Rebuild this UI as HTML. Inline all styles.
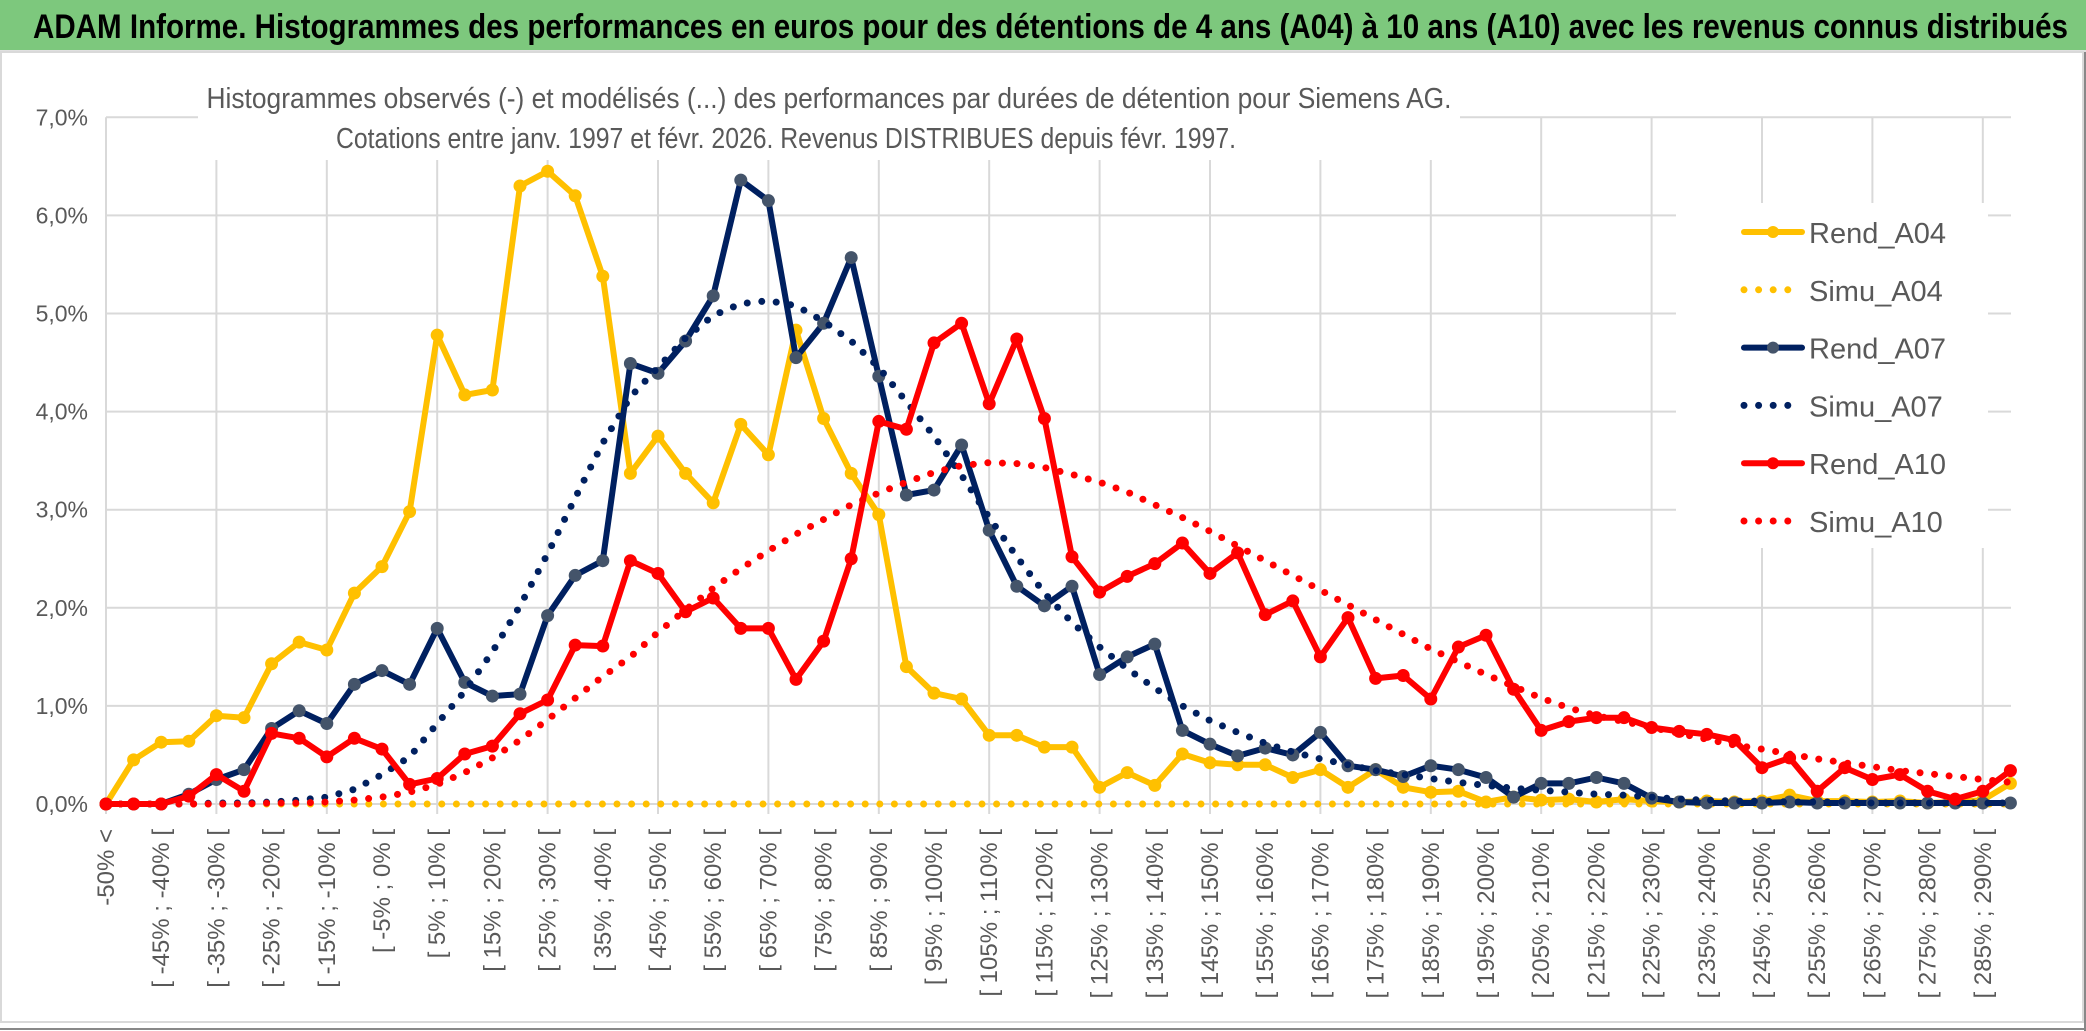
<!DOCTYPE html>
<html><head><meta charset="utf-8">
<style>
html,body{margin:0;padding:0;background:#fff;}
svg{display:block;}
</style></head>
<body>
<svg id="chart" width="2086" height="1031" viewBox="0 0 2086 1031" xmlns="http://www.w3.org/2000/svg" font-family="'Liberation Sans', sans-serif">
  <rect x="0" y="0" width="2086" height="1031" fill="#fff"/>
  <rect x="0" y="0" width="2086" height="50" fill="#7dc87d"/>
  <line x1="0" y1="51.5" x2="2086" y2="51.5" stroke="#e0e0e0" stroke-width="3"/>
  <text x="33" y="38" font-size="34" font-weight="bold" fill="#000" textLength="2035" lengthAdjust="spacingAndGlyphs">ADAM Informe. Histogrammes des performances en euros pour des détentions de 4 ans (A04) à 10 ans (A10) avec les revenus connus distribués</text>
  <rect x="1" y="52" width="2082" height="970" fill="none" stroke="#d9d9d9" stroke-width="2"/>
  <line x1="0" y1="1029" x2="2086" y2="1029" stroke="#888" stroke-width="2"/>
  <line x1="2085" y1="52" x2="2085" y2="1031" stroke="#888" stroke-width="2"/>
  <g id="grid"></g>
  <g id="yaxis"></g>
  <g id="xaxis"></g>
  <rect x="198" y="72" width="1262" height="88" fill="#fff"/>
  <text x="829" y="108" font-size="29" fill="#595959" text-anchor="middle" textLength="1245" lengthAdjust="spacingAndGlyphs">Histogrammes observés (-) et modélisés (...) des performances par durées de détention pour Siemens AG.</text>
  <text x="786" y="148" font-size="29" fill="#595959" text-anchor="middle" textLength="900" lengthAdjust="spacingAndGlyphs">Cotations entre janv. 1997 et févr. 2026. Revenus DISTRIBUES depuis févr. 1997.</text>
  <g id="series"></g>
  <g id="legend"></g>
</svg>
<script>
const NS='http://www.w3.org/2000/svg';
const yTicks=[0,1,2,3,4,5,6,7];
const yTickLabels=['0,0%','1,0%','2,0%','3,0%','4,0%','5,0%','6,0%','7,0%'];
const categories=['-50% <'];
for(let k=1;k<70;k++){const a=-55+5*k;categories.push('[ '+a+'% ; '+(a+5)+'% [');}
const rendA04=[0,0.45,0.63,0.64,0.9,0.88,1.43,1.65,1.57,2.15,2.42,2.98,4.78,4.17,4.22,6.3,6.45,6.2,5.38,3.37,3.75,3.37,3.07,3.87,3.56,4.83,3.93,3.37,2.95,1.4,1.13,1.07,0.7,0.7,0.58,0.58,0.17,0.32,0.19,0.51,0.42,0.4,0.4,0.27,0.35,0.17,0.35,0.17,0.12,0.13,0.02,0.07,0.04,0.05,0.02,0.05,0.03,0.02,0.03,0.02,0.03,0.09,0.03,0.03,0.02,0.03,0.01,0.02,0.04,0.21];
const simuA04=new Array(70).fill(0);
const rendA07=[0,0,0,0.1,0.25,0.35,0.77,0.95,0.82,1.22,1.36,1.22,1.79,1.24,1.1,1.12,1.92,2.33,2.48,4.49,4.39,4.72,5.18,6.36,6.15,4.55,4.9,5.57,4.36,3.15,3.2,3.66,2.79,2.22,2.02,2.22,1.32,1.5,1.63,0.75,0.61,0.49,0.57,0.5,0.73,0.39,0.35,0.28,0.39,0.35,0.27,0.07,0.21,0.21,0.27,0.21,0.06,0.02,0.01,0.01,0.01,0.02,0.01,0.01,0.01,0.01,0.01,0.01,0.01,0.01];
const simuA07=[0,0,0,0,0.01,0.01,0.02,0.04,0.07,0.15,0.3,0.48,0.82,1.15,1.55,2.02,2.55,3.12,3.68,4.15,4.45,4.75,4.98,5.1,5.13,5.08,4.92,4.72,4.45,4.1,3.75,3.35,2.92,2.52,2.15,1.85,1.6,1.38,1.18,1.0,0.85,0.73,0.62,0.53,0.46,0.4,0.34,0.3,0.26,0.22,0.19,0.16,0.14,0.12,0.1,0.09,0.07,0.05,0.04,0.03,0.03,0.02,0.02,0.02,0.01,0.01,0.01,0.01,0.01,0.01];
const rendA10=[0,0,0,0.08,0.3,0.13,0.72,0.67,0.48,0.67,0.56,0.2,0.26,0.51,0.59,0.92,1.06,1.62,1.61,2.48,2.35,1.96,2.1,1.79,1.79,1.27,1.66,2.5,3.9,3.82,4.7,4.9,4.08,4.74,3.93,2.52,2.16,2.32,2.45,2.66,2.35,2.56,1.93,2.07,1.5,1.9,1.28,1.31,1.07,1.6,1.72,1.17,0.75,0.84,0.88,0.88,0.78,0.74,0.71,0.65,0.37,0.47,0.13,0.37,0.25,0.3,0.13,0.05,0.13,0.34];
const simuA10=[0,0,0,0,0,0,0.01,0.01,0.02,0.04,0.07,0.12,0.2,0.32,0.47,0.65,0.86,1.08,1.3,1.5,1.75,1.98,2.2,2.4,2.58,2.75,2.9,3.05,3.17,3.28,3.38,3.45,3.48,3.47,3.43,3.36,3.28,3.18,3.05,2.92,2.78,2.63,2.48,2.33,2.18,2.03,1.88,1.73,1.58,1.45,1.32,1.2,1.08,0.98,0.9,0.84,0.78,0.72,0.66,0.6,0.56,0.51,0.46,0.42,0.38,0.34,0.31,0.28,0.25,0.22];
const seriesNames=['Rend_A04','Simu_A04','Rend_A07','Simu_A07','Rend_A10','Simu_A10'];

const X0=106, DX=27.6, Y0=804, DY=98.1, XR=2011;
function xs(i){return X0+i*DX;}
function ys(v){return Y0-v*DY;}
function mk(tag,attrs,parent){const e=document.createElementNS(NS,tag);for(const k in attrs)e.setAttribute(k,attrs[k]);parent.appendChild(e);return e;}

const grid=document.getElementById('grid');
yTicks.forEach((t,i)=>{
  const l=mk('line',{x1:X0,x2:XR,y1:ys(t),y2:ys(t),stroke:'#d9d9d9','stroke-width':2},grid);
  
  
});
for(let i=0;i<categories.length;i+=4){
  const l=mk('line',{x1:xs(i),x2:xs(i),y1:ys(7),y2:Y0+10,stroke:'#d9d9d9','stroke-width':2},grid);
  
  
}
const yaxis=document.getElementById('yaxis');
yTicks.forEach((t,i)=>{
  const tx=mk('text',{x:88,y:ys(t)+8,'font-size':23,fill:'#595959','text-anchor':'end'},yaxis);
  tx.textContent=yTickLabels[i];
  
  
});
const xaxis=document.getElementById('xaxis');
for(let i=0;i<categories.length;i+=2){
  const x=xs(i)+8, y=829;
  const tx=mk('text',{x:x,y:y,'font-size':24,fill:'#595959','text-anchor':'end',transform:'rotate(-90 '+x+' '+y+')'},xaxis);
  tx.textContent=categories[i];
  
  
}

const sg=document.getElementById('series');
function pts(arr){return arr.map((v,i)=>xs(i).toFixed(1)+','+ys(v).toFixed(1)).join(' ');}
function solid(arr,color,mcolor,name){
  const g=mk('g',{},sg);
  
  
  const p=mk('polyline',{points:pts(arr),fill:'none',stroke:color,'stroke-width':6,'stroke-linejoin':'round','stroke-linecap':'round'},g);
  
  
  arr.forEach((v,i)=>{
    const c=mk('circle',{cx:xs(i),cy:ys(v),r:6.5,fill:mcolor},g);
    
    
  });
}
function dotted(arr,color,name){
  const p=mk('polyline',{points:pts(arr),fill:'none',stroke:color,'stroke-width':7,'stroke-dasharray':'0 14.6','stroke-linecap':'round'},sg);
  
  
}
solid(rendA04,'#ffc000','#ffc000','rend-a04');
dotted(simuA04,'#ffc000','simu-a04');
solid(rendA07,'#002060','#44546a','rend-a07');
dotted(simuA07,'#002060','simu-a07');
solid(rendA10,'#ff0000','#ff0000','rend-a10');
dotted(simuA10,'#ff0000','simu-a10');

const lg=document.getElementById('legend');
const bx=mk('rect',{x:1676,y:203,width:312,height:345,fill:'#fff'},lg);


const legColors=['#ffc000','#ffc000','#002060','#002060','#ff0000','#ff0000'];
const legMarker=['#ffc000','','#44546a','','#ff0000',''];
seriesNames.forEach((n,i)=>{
  const y=232+i*57.8;
  const g=mk('g',{},lg);
  
  
  if(i%2===0){
    mk('line',{x1:1744,x2:1802,y1:y,y2:y,stroke:legColors[i],'stroke-width':6,'stroke-linecap':'round'},g);
    mk('circle',{cx:1773,cy:y,r:6,fill:legMarker[i]},g);
  } else {
    mk('line',{x1:1744,x2:1800,y1:y,y2:y,stroke:legColors[i],'stroke-width':7,'stroke-dasharray':'0 14.6','stroke-linecap':'round'},g);
  }
  const t=mk('text',{x:1809,y:y+11,'font-size':29,fill:'#595959'},g);
  t.textContent=n;
});
</script>
</body></html>
